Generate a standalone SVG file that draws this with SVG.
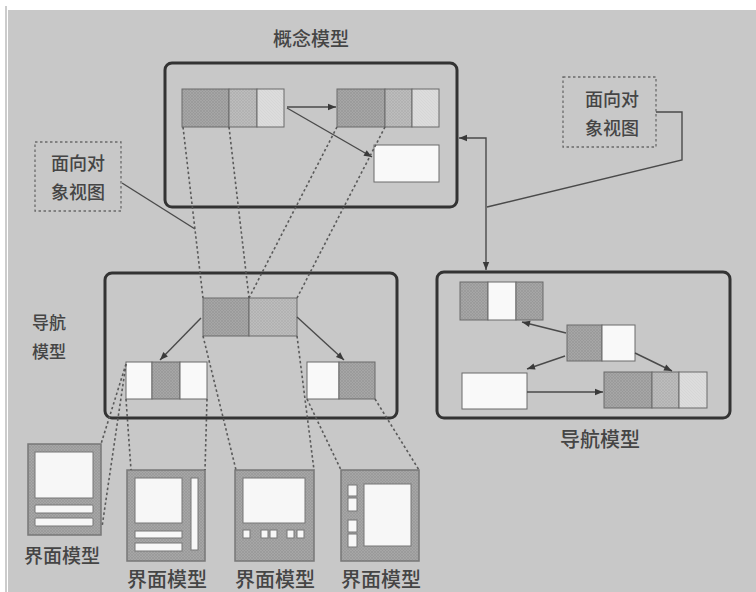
<svg xmlns="http://www.w3.org/2000/svg" width="756" height="592" viewBox="0 0 756 592">
<defs>
<marker id="ah" viewBox="0 0 10 10" refX="10" refY="5" markerWidth="10" markerHeight="8" markerUnits="userSpaceOnUse" orient="auto-start-reverse">
<path d="M0,1 L10,5 L0,9 z" fill="#3a3a3a"/>
</marker>
<pattern id="hd" width="3" height="3" patternUnits="userSpaceOnUse">
<rect width="3" height="3" fill="#a6a6a6"/>
<path d="M0,0 L3,3 M3,0 L0,3" stroke="#959595" stroke-width="0.6"/>
</pattern>
<pattern id="hm" width="3" height="3" patternUnits="userSpaceOnUse">
<rect width="3" height="3" fill="#bcbcbc"/>
<path d="M0,0 L3,3 M3,0 L0,3" stroke="#adadad" stroke-width="0.6"/>
</pattern>
<pattern id="hl" width="3" height="3" patternUnits="userSpaceOnUse">
<rect width="3" height="3" fill="#dcdcdc"/>
<path d="M0,0 L3,3" stroke="#d0d0d0" stroke-width="0.5"/>
</pattern>
</defs>
<style>
.txt{font-family:"Noto Sans CJK SC","Noto Sans",sans-serif;fill:#454545;text-anchor:middle;font-weight:500}
.box{fill:none;stroke:#333;stroke-width:3}
.c{stroke:#6a6a6a;stroke-width:1}
.d{fill:url(#hd)}
.m{fill:url(#hm)}
.l{fill:url(#hl)}
.w{fill:#f9f9f9}
.conn{fill:none;stroke:#4a4a4a;stroke-width:1.4}
.dot{fill:none;stroke:#5a5a5a;stroke-width:1.6;stroke-dasharray:2.5 2.5}
.call{fill:none;stroke:#6a6a6a;stroke-width:1.3;stroke-dasharray:2.5 2.5}
.ui{fill:url(#hd);stroke:#777;stroke-width:1.5}
.uw{fill:#f7f7f7;stroke:#777;stroke-width:1}
</style>
<rect x="0" y="0" width="756" height="592" fill="#ffffff"/>
<rect x="8" y="10" width="748" height="582" fill="#c8c8c8"/>
<line x1="6" y1="6" x2="6" y2="592" stroke="#999" stroke-width="1"/>

<g id="conceptual-model">
<rect class="box" x="165" y="63" width="292" height="144" rx="7"/>
<text class="txt" x="311" y="46" font-size="19">概念模型</text>
<g id="c-entity1">
<rect class="c d" x="182" y="89" width="47" height="38"/>
<rect class="c m" x="229" y="89" width="28" height="38"/>
<rect class="c l" x="257" y="89" width="27" height="38"/>
</g>
<g id="c-entity2">
<rect class="c d" x="337" y="89" width="48" height="38"/>
<rect class="c m" x="385" y="89" width="27" height="38"/>
<rect class="c l" x="412" y="89" width="27" height="38"/>
</g>
<g id="c-entity3">
<rect class="c w" x="374" y="145" width="65" height="37"/>
</g>
</g>

<g id="callout-left">
<rect class="call" x="35" y="142" width="86" height="69"/>
<text class="txt" x="78" y="170" font-size="18">面向对</text>
<text class="txt" x="78" y="199" font-size="18">象视图</text>
</g>

<g id="callout-right">
<rect class="call" x="563" y="77" width="93" height="70"/>
<text class="txt" x="612" y="106" font-size="18">面向对</text>
<text class="txt" x="612" y="135" font-size="18">象视图</text>
</g>

<g id="navigation-model-left">
<rect class="box" x="105" y="273" width="292" height="145" rx="7"/>
<text class="txt" x="49" y="329" font-size="17">导航</text>
<text class="txt" x="49" y="358" font-size="17">模型</text>
<g id="n-entity-center">
<rect class="c d" x="203" y="298" width="46" height="38"/>
<rect class="c m" x="249" y="298" width="48" height="38"/>
</g>
<g id="n-entity-left">
<rect class="c w" x="126" y="362" width="26" height="37"/>
<rect class="c d" x="152" y="362" width="28" height="37"/>
<rect class="c w" x="180" y="362" width="27" height="37"/>
</g>
<g id="n-entity-right">
<rect class="c w" x="307" y="362" width="32" height="37"/>
<rect class="c d" x="339" y="362" width="36" height="37"/>
</g>
</g>

<g id="navigation-model-right">
<rect class="box" x="437" y="272" width="293" height="146" rx="7"/>
<text class="txt" x="600" y="447" font-size="20">导航模型</text>
<g id="r-entity1">
<rect class="c d" x="460" y="282" width="28" height="38"/>
<rect class="c w" x="488" y="282" width="28" height="38"/>
<rect class="c d" x="516" y="282" width="27" height="38"/>
</g>
<g id="r-entity2">
<rect class="c d" x="567" y="325" width="35" height="36"/>
<rect class="c w" x="602" y="325" width="33" height="36"/>
</g>
<g id="r-entity3">
<rect class="c w" x="462" y="373" width="65" height="36"/>
</g>
<g id="r-entity4">
<rect class="c d" x="604" y="372" width="48" height="36"/>
<rect class="c m" x="652" y="372" width="27" height="36"/>
<rect class="c l" x="679" y="372" width="28" height="36"/>
</g>
</g>

<g id="ui-model-1">
<rect class="ui" x="28" y="444" width="73" height="91"/>
<rect class="uw" x="35" y="452" width="58" height="46"/>
<rect class="uw" x="35" y="505" width="58" height="8" rx="1"/>
<rect class="uw" x="35" y="518" width="58" height="8" rx="1"/>
<text class="txt" x="62" y="563" font-size="19">界面模型</text>
</g>

<g id="ui-model-2">
<rect class="ui" x="127" y="470" width="78" height="91"/>
<rect class="uw" x="135" y="478" width="47" height="45"/>
<rect class="uw" x="191" y="478" width="7" height="72"/>
<rect class="uw" x="135" y="531" width="47" height="7"/>
<rect class="uw" x="135" y="543" width="47" height="8"/>
<text class="txt" x="167" y="587" font-size="20">界面模型</text>
</g>

<g id="ui-model-3">
<rect class="ui" x="235" y="470" width="79" height="91"/>
<rect class="uw" x="243" y="478" width="62" height="45"/>
<rect class="uw" x="243" y="530" width="7" height="8"/>
<rect class="uw" x="261" y="530" width="7" height="8"/>
<rect class="uw" x="270" y="530" width="7" height="8"/>
<rect class="uw" x="287" y="530" width="7" height="8"/>
<rect class="uw" x="297" y="530" width="7" height="8"/>
<text class="txt" x="275" y="587" font-size="20">界面模型</text>
</g>

<g id="ui-model-4">
<rect class="ui" x="341" y="470" width="78" height="91"/>
<rect class="uw" x="364" y="484" width="47" height="62"/>
<rect class="uw" x="348" y="485" width="9" height="11"/>
<rect class="uw" x="348" y="498" width="9" height="13"/>
<rect class="uw" x="348" y="520" width="9" height="12"/>
<rect class="uw" x="348" y="534" width="9" height="13"/>
<text class="txt" x="381" y="587" font-size="20">界面模型</text>
</g>

<g id="connectors">
<path class="conn" d="M287 107 H336" marker-end="url(#ah)"/>
<path class="conn" d="M287 108 L372 157" marker-end="url(#ah)"/>
<path class="conn" d="M459 138 H486 V270" marker-start="url(#ah)" marker-end="url(#ah)"/>
<path class="conn" d="M201 318 L160 360" marker-end="url(#ah)"/>
<path class="conn" d="M297 317 L344 360" marker-end="url(#ah)"/>
<path class="conn" d="M566 333 L522 322" marker-end="url(#ah)"/>
<path class="conn" d="M565 356 L527 369" marker-end="url(#ah)"/>
<path class="conn" d="M635 353 L672 371" marker-end="url(#ah)"/>
<path class="conn" d="M527 392 H603" marker-end="url(#ah)"/>
<path class="conn" d="M122 183 L195 229"/>
<path class="conn" d="M656 112 H682 V160 L487 207"/>
<path class="dot" d="M183 127 L203 298"/>
<path class="dot" d="M229 127 L249 298"/>
<path class="dot" d="M337 127 L249 298"/>
<path class="dot" d="M385 127 L297 298"/>
<path class="dot" d="M126 364 L101 444"/>
<path class="dot" d="M126 364 L102 527"/>
<path class="dot" d="M126 399 L131 470"/>
<path class="dot" d="M207 399 L205 470"/>
<path class="dot" d="M203 336 L236 470"/>
<path class="dot" d="M297 336 L314 470"/>
<path class="dot" d="M307 399 L341 470"/>
<path class="dot" d="M375 399 L419 470"/>
</g>
</svg>
